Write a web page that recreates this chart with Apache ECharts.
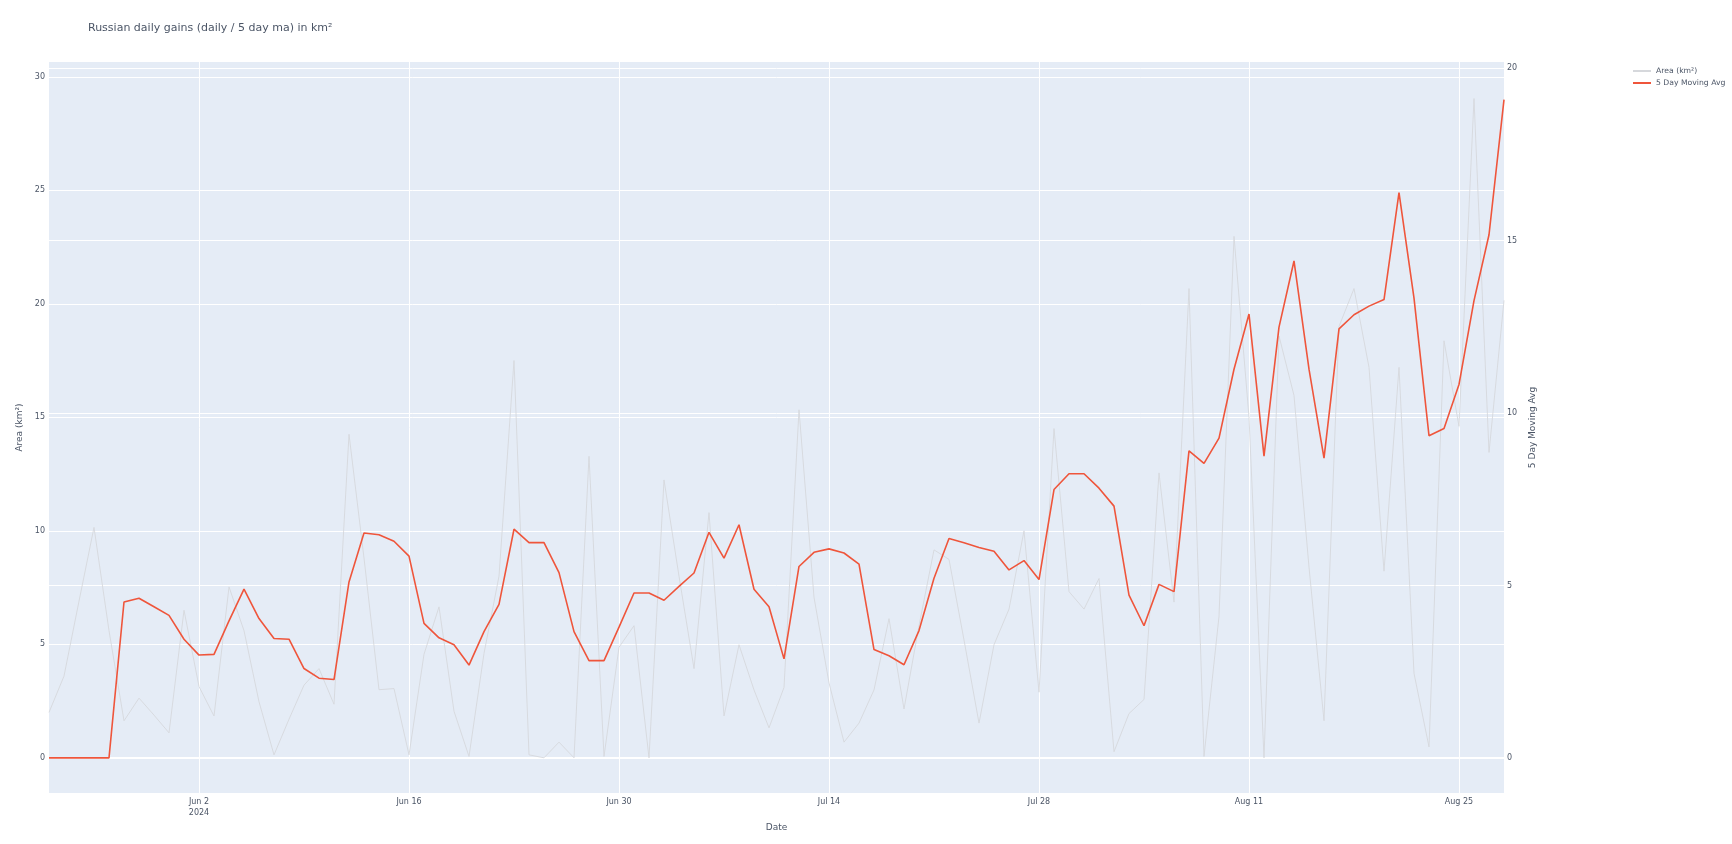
<!DOCTYPE html>
<html>
<head>
<meta charset="utf-8">
<script src="https://cdn.jsdelivr.net/npm/echarts@6/dist/echarts.min.js"></script>
<style>
html,body{margin:0;padding:0;background:#fff;}
#chart{width:1732px;height:844px;}
</style>
</head>
<body>
<div id="chart"></div>
<script>
const dates = [
'2024-05-23','2024-05-24','2024-05-25','2024-05-26','2024-05-27','2024-05-28','2024-05-29','2024-05-30','2024-05-31',
'2024-06-01','2024-06-02','2024-06-03','2024-06-04','2024-06-05','2024-06-06','2024-06-07','2024-06-08','2024-06-09','2024-06-10',
'2024-06-11','2024-06-12','2024-06-13','2024-06-14','2024-06-15','2024-06-16','2024-06-17','2024-06-18','2024-06-19','2024-06-20',
'2024-06-21','2024-06-22','2024-06-23','2024-06-24','2024-06-25','2024-06-26','2024-06-27','2024-06-28','2024-06-29','2024-06-30',
'2024-07-01','2024-07-02','2024-07-03','2024-07-04','2024-07-05','2024-07-06','2024-07-07','2024-07-08','2024-07-09','2024-07-10',
'2024-07-11','2024-07-12','2024-07-13','2024-07-14','2024-07-15','2024-07-16','2024-07-17','2024-07-18','2024-07-19','2024-07-20',
'2024-07-21','2024-07-22','2024-07-23','2024-07-24','2024-07-25','2024-07-26','2024-07-27','2024-07-28','2024-07-29','2024-07-30',
'2024-07-31','2024-08-01','2024-08-02','2024-08-03','2024-08-04','2024-08-05','2024-08-06','2024-08-07','2024-08-08','2024-08-09',
'2024-08-10','2024-08-11','2024-08-12','2024-08-13','2024-08-14','2024-08-15','2024-08-16','2024-08-17','2024-08-18','2024-08-19',
'2024-08-20','2024-08-21','2024-08-22','2024-08-23','2024-08-24','2024-08-25','2024-08-26','2024-08-27','2024-08-28'
];

const areaKm2 = [
2.0, 3.6, 6.9, 10.15, 5.6, 1.63, 2.63, 1.88, 1.1, 6.5,
3.14, 1.84, 7.53, 5.6, 2.47, 0.13, 1.7, 3.2, 3.93, 2.36,
14.25, 8.8, 3.0, 3.05, 0.13, 4.56, 6.65, 2.05, 0.06, 4.6,
8.0, 17.5, 0.13, 0.0, 0.69, 0.0, 13.28, 0.06, 4.87, 5.82,
0.0, 12.24, 8.0, 3.93, 10.8, 1.84, 4.98, 2.99, 1.32, 3.1,
15.33, 7.07, 3.3, 0.69, 1.53, 2.99, 6.13, 2.15, 5.82, 9.16,
8.74, 5.19, 1.53, 4.98, 6.55, 10.0, 2.89, 14.5, 7.32, 6.55,
7.9, 0.27, 1.95, 2.57, 12.55, 6.86, 20.67, 0.06, 6.23, 22.97,
15.0, 0.0, 18.58, 15.96, 8.4, 1.63, 19.0, 20.67, 17.2, 8.22,
17.2, 3.72, 0.48, 18.37, 14.6, 29.04, 13.45, 20.15
];

const movingAvg5 = [
0, 0, 0, 0, 0, 4.52, 4.63, 4.38, 4.13, 3.44,
2.98, 3.0, 3.97, 4.89, 4.04, 3.46, 3.44, 2.59, 2.31, 2.27,
5.1, 6.52, 6.47, 6.28, 5.85, 3.9, 3.48, 3.28, 2.69, 3.66,
4.45, 6.63, 6.24, 6.24, 5.37, 3.66, 2.82, 2.82, 3.79, 4.78,
4.78, 4.57, 4.97, 5.36, 6.54, 5.79, 6.76, 4.89, 4.38, 2.87,
5.55, 5.96, 6.06, 5.94, 5.62, 3.14, 2.96, 2.7, 3.69, 5.21,
6.36, 6.24, 6.1, 5.99, 5.45, 5.72, 5.17, 7.78, 8.24, 8.24,
7.82, 7.3, 4.72, 3.83, 5.03, 4.82, 8.9, 8.54, 9.27, 11.27,
12.87, 8.75, 12.49, 14.41, 11.27, 8.69, 12.44, 12.85, 13.1, 13.29,
16.39, 13.33, 9.34, 9.55, 10.83, 13.26, 15.17, 19.09
];

const xTickDates = ['2024-06-02','2024-06-16','2024-06-30','2024-07-14','2024-07-28','2024-08-11','2024-08-25'];
const xTickLabels = ['Jun 2\n2024','Jun 16','Jun 30','Jul 14','Jul 28','Aug 11','Aug 25'];
const leftTicks = [0, 5, 10, 15, 20, 25, 30];
const rightTicks = [0, 5, 10, 15, 20];

const FONT = 'Verdana, "DejaVu Sans", sans-serif';
const TXT = '#4b5566';
const isTick = (idx, val) => xTickDates.indexOf(val) >= 0;

const chart = echarts.init(document.getElementById('chart'), null, {renderer: 'canvas'});
chart.setOption({
  animation: false,
  textStyle: {fontFamily: FONT},
  title: {
    text: 'Russian daily gains (daily / 5 day ma) in km²',
    left: 83, top: 18,
    textStyle: {fontFamily: FONT, fontSize: 11, fontWeight: 'normal', color: TXT}
  },
  legend: {
    orient: 'vertical', left: 1632, top: 67, padding: 0, itemGap: 4,
    itemWidth: 18, itemHeight: 8,
    itemStyle: {opacity: 0},
    textStyle: {fontFamily: FONT, fontSize: 7.7, color: TXT},
    data: ['Area (km²)', '5 Day Moving Avg']
  },
  grid: {
    left: 49, right: 228, top: 62, bottom: 51,
    show: true, backgroundColor: '#E5ECF6', borderWidth: 0
  },
  xAxis: [{
    type: 'category', data: dates, boundaryGap: false,
    axisLine: {show: false}, axisTick: {show: false},
    axisLabel: {
      interval: isTick, color: TXT, fontSize: 8, margin: 3, lineHeight: 11,
      formatter: (v) => xTickLabels[xTickDates.indexOf(v)] || ''
    },
    splitLine: {show: true, interval: isTick, lineStyle: {color: '#ffffff', width: 1}},
    name: 'Date', nameLocation: 'middle', nameGap: 28,
    nameTextStyle: {fontFamily: FONT, fontSize: 9, color: TXT}
  }, {
    type: 'category', data: dates, boundaryGap: false, position: 'top',
    axisLine: {show: true, onZero: true, lineStyle: {color: '#ffffff', width: 2}},
    axisTick: {show: false}, axisLabel: {show: false}, splitLine: {show: false}
  }],
  yAxis: [{
    type: 'value', min: -1.55, max: 30.65, position: 'left',
    axisLine: {show: false},
    axisTick: {show: false, customValues: leftTicks},
    axisLabel: {customValues: leftTicks, color: TXT, fontSize: 8, margin: 4},
    splitLine: {show: true, lineStyle: {color: '#ffffff', width: 1}},
    name: 'Area (km²)', nameLocation: 'middle', nameGap: 18,
    nameTextStyle: {fontFamily: FONT, fontSize: 9, color: TXT}
  }, {
    type: 'value', min: -1.02, max: 20.18, position: 'right',
    axisLine: {show: false},
    axisTick: {show: false, customValues: rightTicks},
    axisLabel: {customValues: rightTicks, color: TXT, fontSize: 8, margin: 3},
    splitLine: {show: true, lineStyle: {color: '#ffffff', width: 1}},
    name: '5 Day Moving Avg', nameLocation: 'middle', nameGap: 16,
    nameTextStyle: {fontFamily: FONT, fontSize: 9, color: TXT}
  }],
  series: [{
    name: 'Area (km²)', type: 'line', xAxisIndex: 0, yAxisIndex: 0,
    data: areaKm2, symbol: 'none',
    lineStyle: {color: '#d6d8dc', width: 0.9}, itemStyle: {color: '#d6d8dc'}
  }, {
    name: '5 Day Moving Avg', type: 'line', xAxisIndex: 0, yAxisIndex: 1,
    data: movingAvg5, symbol: 'none',
    lineStyle: {color: '#EF553B', width: 1.6}, itemStyle: {color: '#EF553B'}
  }]
});
</script>
</body>
</html>
